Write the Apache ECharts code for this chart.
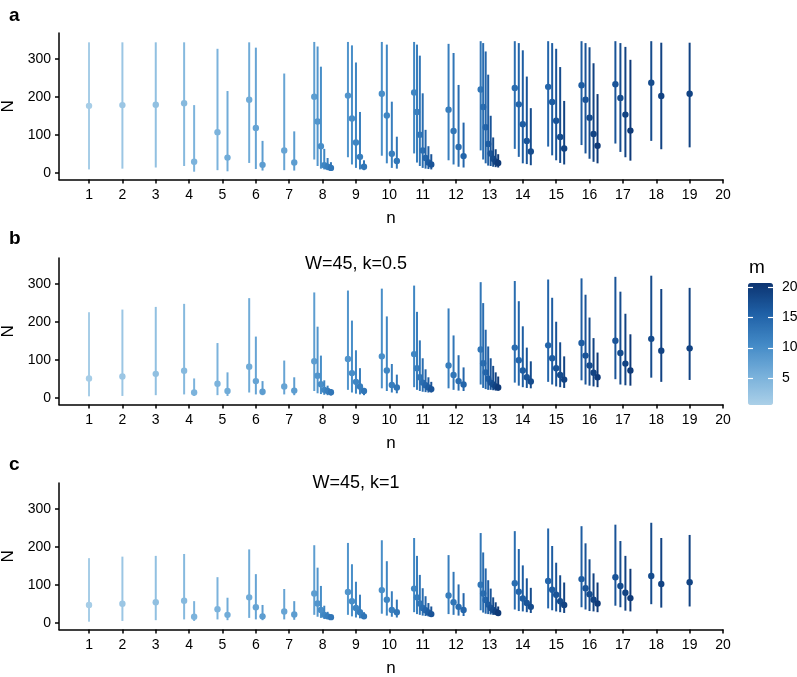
<!DOCTYPE html>
<html><head><meta charset="utf-8">
<script src="https://cdn.jsdelivr.net/npm/echarts@6/dist/echarts.min.js"></script>
<style>html,body{margin:0;padding:0;background:#fff}#c{width:797px;height:677px}</style>
</head><body><div id="c"></div>
<script>
// ---- data ----
const groupN = [1,2,3,4,5,6,7,8,9,10,11,12,13,14,15,16,17,18,19];
const groupCount = [1,1,1,2,2,3,2,6,5,4,7,4,8,5,5,5,4,2,1];
const pointM = [1,2,3, 4,5, 5,6, 6,7,8, 7,8, 8,9,10,11,12,13, 9,10,11,12,13, 10,11,12,13,
  11,12,13,14,15,16,17, 12,13,14,15, 13,14,15,16,17,18,19,20, 14,15,16,17,18, 15,16,17,18,19,
  16,17,18,19,20, 17,18,19,20, 18,19, 19];
const xTicks = [1,2,3,4,5,6,7,8,9,10,11,12,13,14,15,16,17,18,19,20];
const yTicks = [0,100,200,300];
const legendTicks = [5,10,15,20];

const aMid = [176,178,179, 183,29, 107,40, 192,118,21, 59,27, 200,135,70,20,16,13, 203,143,80,42,16, 208,151,50,31,
  211,160,100,59,39,27,22, 166,110,68,44, 219,173,120,76,51,37,29,26, 223,180,128,84,56, 226,186,137,94,64,
  230,192,145,102,71, 233,197,153,111, 237,202, 208];
const aLow = [9,11,14, 18,3, 7,4, 26,10,6, 7,6, 35,18,11,9,7,6, 41,22,13,9,7, 45,25,13,11,
  51,27,18,13,11,10,9, 33,22,16,14, 59,35,25,19,18,16,15,14, 63,42,25,23,20, 69,46,33,26,22,
  73,51,37,29,25, 77,55,41,32, 84,62, 67];
const aHigh = [343,343,343, 343,178, 326,215, 343,329,84, 261,109, 344,332,279,63,39,28, 344,335,290,160,33, 344,337,187,95,
  344,337,308,209,113,70,49, 339,315,231,132, 346,341,319,258,150,93,62,49, 346,341,322,253,170, 346,341,326,278,189,
  346,341,330,288,207, 346,341,331,297, 346,342, 342];

const bMid = [51,56,63, 71,14, 37,18, 82,44,16, 30,19, 96,58,36,21,18,15, 102,65,42,30,18, 109,72,34,27,
  115,78,54,40,33,27,23, 85,60,44,35, 127,91,67,50,40,35,30,27, 132,99,72,54,43, 138,104,78,60,48,
  144,111,85,66,54, 150,118,90,72, 155,124, 130];
const bLow = [4,5,7, 9,5, 7,5, 14,9,7, 9,7, 18,12,10,8,7,6, 21,14,11,9,7, 25,18,14,12,
  28,21,18,16,15,14,14, 25,21,19,18, 35,26,23,21,21,20,19,19, 40,32,28,26,25, 42,35,30,28,26,
  46,35,32,30,28, 49,35,33,32, 53,42, 47];
const bHigh = [225,232,239, 247,51, 144,67, 262,161,44, 98,54, 277,187,111,46,32,23, 282,203,125,78,26, 287,214,89,61,
  295,226,151,104,75,54,42, 235,164,112,80, 304,249,179,135,104,84,67,56, 307,254,188,132,96, 311,263,200,146,109,
  314,271,211,157,119, 318,279,221,167, 321,286, 289];

const cMid = [47,50,54, 58,16, 36,21, 67,41,17, 30,22, 77,51,34,21,17,15, 81,57,39,28,17, 86,61,34,28,
  90,67,51,39,33,27,23, 72,54,42,34, 100,77,60,48,39,34,29,26, 104,82,64,52,42, 110,87,74,57,47,
  115,91,75,61,51, 120,97,79,65, 123,102, 107];
const cLow = [3,5,7, 9,5, 9,7, 13,9,7, 9,8, 21,16,13,10,10,9, 21,17,14,12,10, 24,19,16,14,
  28,23,21,19,18,17,17, 23,21,19,18, 33,27,24,23,22,21,21,20, 35,31,30,28,26, 38,33,30,28,26,
  41,35,31,30,28, 45,41,32,30, 49,40, 43];
const cHigh = [170,174,176, 181,57, 120,66, 193,128,47, 89,57, 204,145,97,45,29,21, 210,154,108,74,28, 217,162,83,61,
  223,176,126,91,70,52,43, 178,134,101,78, 236,185,143,112,90,67,54,43, 241,194,151,117,92, 248,202,158,125,106,
  254,209,167,130,106, 258,215,176,142, 263,223, 231];

const panelLabels = ['a','b','c'];
const panelSubtitles = ['', 'W=45, k=0.5', 'W=45, k=1'];

// ---- build ----
const DODGE = 0.6;
const pointX = [];
groupN.forEach((n, g) => {
  const k = groupCount[g];
  for (let i = 0; i < k; i++) pointX.push(n + (i - (k - 1) / 2) * DODGE / k);
});
function rows(mid, lo, hi) {
  return pointX.map((x, i) => [x, mid[i], lo[i], hi[i], pointM[i]]);
}
const panels = [rows(aMid, aLow, aHigh), rows(bMid, bLow, bHigh), rows(cMid, cLow, cHigh)];

const FONT = '"Liberation Sans", Arial, Helvetica, sans-serif';
const gridTops = [33, 258, 483];
const GH = 146.5;
const grids = gridTops.map(t => ({left: 59, width: 664, top: t, height: GH, containLabel: false, outerBoundsMode: 'none'}));

const xAxes = gridTops.map((t, i) => ({
  gridIndex: i, type: 'value', min: 0.1, max: 20,
  axisLine: {onZero: false, lineStyle: {color: '#000', width: 1.5}},
  axisTick: {customValues: xTicks, length: 4, lineStyle: {color: '#000', width: 1.5}},
  axisLabel: {customValues: xTicks, color: '#000', fontSize: 14, fontFamily: FONT, margin: 9},
  splitLine: {show: false},
  name: 'n', nameLocation: 'middle', nameGap: 30,
  nameTextStyle: {color: '#000', fontSize: 17, fontFamily: FONT}
}));
const yAxes = gridTops.map((t, i) => ({
  gridIndex: i, type: 'value', min: -17.5, max: 367.5,
  axisLine: {onZero: false, lineStyle: {color: '#000', width: 1.5}},
  axisTick: {customValues: yTicks, length: 4, lineStyle: {color: '#000', width: 1.5}},
  axisLabel: {customValues: yTicks, color: '#000', fontSize: 14, fontFamily: FONT, margin: 8},
  splitLine: {show: false},
  name: 'N', nameLocation: 'middle', nameGap: 37, nameRotate: 90,
  nameTextStyle: {color: '#000', fontSize: 17, fontFamily: FONT}
}));

function renderItem(params, api) {
  const x = api.value(0);
  const p = api.coord([x, api.value(1)]);
  const lo = api.coord([x, api.value(2)]);
  const hi = api.coord([x, api.value(3)]);
  const color = api.visual('color');
  return {type: 'group', children: [
    {type: 'line', shape: {x1: lo[0], y1: lo[1], x2: hi[0], y2: hi[1]}, style: {stroke: color, lineWidth: 2}},
    {type: 'circle', shape: {cx: p[0], cy: p[1], r: 3.2}, style: {fill: color}}
  ]};
}
const series = panels.map((d, i) => ({
  type: 'custom', xAxisIndex: i, yAxisIndex: i, data: d, renderItem,
  encode: {x: 0, y: [1, 2, 3]}, silent: true, animation: false
}));

const VM_MIN = 0.5, VM_MAX = 20.7, VM_TOP = 283, VM_H = 122, VM_LEFT = 748, VM_W = 25;
const vmY = v => VM_TOP + (VM_MAX - v) / (VM_MAX - VM_MIN) * VM_H;

const graphics = [];
panelLabels.forEach((t, i) => {
  graphics.push({type: 'text', left: 9, top: [6, 229, 455][i],
    style: {text: t, font: 'bold 19px ' + FONT, fill: '#000'}});
});
panelSubtitles.forEach((t, i) => {
  if (!t) return;
  graphics.push({type: 'text', x: 356, y: [0, 264, 483][i],
    style: {text: t, font: '18px ' + FONT, fill: '#000', textAlign: 'center', textVerticalAlign: 'middle'}});
});
graphics.push({type: 'text', x: 749, y: 268,
  style: {text: 'm', font: '19px ' + FONT, fill: '#000', textVerticalAlign: 'middle'}});
legendTicks.forEach(v => {
  const y = Math.round(vmY(v)) + 0.5;
  graphics.push({type: 'line', z: 100, shape: {x1: VM_LEFT, y1: y, x2: VM_LEFT + 5, y2: y}, style: {stroke: '#fff', lineWidth: 1.2}});
  graphics.push({type: 'line', z: 100, shape: {x1: VM_LEFT + VM_W - 5, y1: y, x2: VM_LEFT + VM_W, y2: y}, style: {stroke: '#fff', lineWidth: 1.2}});
  graphics.push({type: 'text', x: VM_LEFT + VM_W + 9, y: vmY(v),
    style: {text: String(v), font: '14px ' + FONT, fill: '#000', textVerticalAlign: 'middle'}});
});

const chart = echarts.init(document.getElementById('c'), null, {renderer: 'canvas'});
chart.setOption({
  animation: false,
  backgroundColor: '#fff',
  grid: grids,
  xAxis: xAxes,
  yAxis: yAxes,
  visualMap: {
    type: 'continuous', min: VM_MIN, max: VM_MAX, dimension: 4, seriesIndex: [0, 1, 2],
    calculable: false, realtime: false, hoverLink: false,
    left: VM_LEFT, top: VM_TOP, itemWidth: VM_W, itemHeight: VM_H, padding: 0,
    text: null, showLabel: false,
    inRange: {color: ['#abd0e8', '#76afda', '#4289c6', '#1f60a6', '#0c3471']}
  },
  series,
  graphic: graphics
});
</script></body></html>
